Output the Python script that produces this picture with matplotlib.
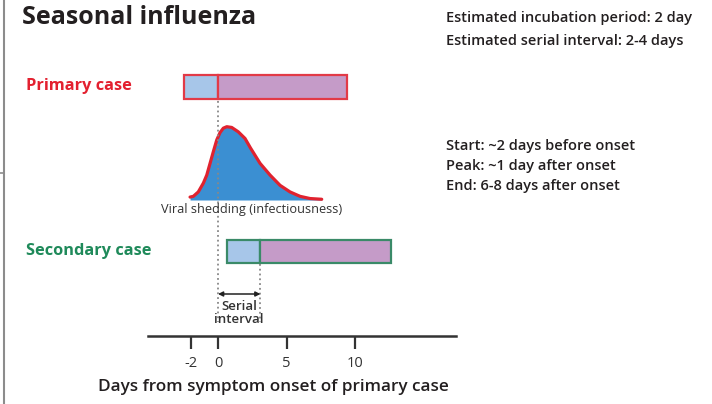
import matplotlib.pyplot as plt
from matplotlib.patches import Rectangle

plt.rcParams['font.family'] = ['Open Sans', 'DejaVu Sans']

# data (days from symptom onset of primary case)
primary_incub = (-2.5, 0.0)       # incubation part of primary case
primary_ill = (0.0, 9.4)          # symptomatic part
secondary_incub = (0.65, 3.1)
secondary_ill = (3.1, 12.6)

shed_days = [-2.04, -1.80, -1.44, -1.07, -0.82, -0.58, -0.34, -0.09, 0.15, 0.39,
             0.64, 1.0, 1.48, 1.97, 2.37, 3.07, 3.80, 4.53, 5.26, 5.99, 6.72, 7.57]
shed_level = [0.04, 0.05, 0.11, 0.23, 0.34, 0.50, 0.66, 0.82, 0.92, 0.98,
              1.0, 0.99, 0.93, 0.84, 0.71, 0.50, 0.34, 0.20, 0.11, 0.05, 0.02, 0.01]

ticks = [-2, 0, 5, 10]

fig = plt.figure(figsize=(7.12, 4.04), dpi=100)
ax = fig.add_axes([0, 0, 1, 1])
# x: days, y: pixel rows from top
ax.set_xlim(-218 / 13.7, (712 - 218) / 13.7)
ax.set_ylim(404, 0)

blue = '#a7c6e9'
purple = '#c59bc8'
red = '#e23a47'
green = '#3a8a68'

def case_bar(incub, ill, y0, h, edge):
    ax.add_patch(Rectangle((incub[0], y0), incub[1] - incub[0], h,
                           facecolor=blue, edgecolor=edge, lw=1.6))
    ax.add_patch(Rectangle((ill[0], y0), ill[1] - ill[0], h,
                           facecolor=purple, edgecolor=edge, lw=1.6))

case_bar(primary_incub, primary_ill, 75, 24, red)
case_bar(secondary_incub, secondary_ill, 240, 23, green)

# shedding curve
base, peak_h = 200, 73.3
ys = [base - peak_h * v for v in shed_level]
ax.fill_between(shed_days, base, ys, color='#3b8fd2', lw=0)
ax.plot(shed_days, ys, color='#e0222f', lw=2.3, solid_capstyle='round',
        solid_joinstyle='round')

# dotted guides
ax.plot([0, 0], [101, 322], ls=':', color='#888888', lw=1.3)
ax.plot([secondary_incub[1]] * 2, [264, 322], ls=':', color='#888888', lw=1.3)

ax.annotate('', xy=(0, 294), xytext=(secondary_incub[1], 294),
            arrowprops=dict(arrowstyle='<|-|>', color='#222222', lw=1.1,
                            mutation_scale=7, shrinkA=0, shrinkB=0))
ax.text(secondary_incub[1] / 2, 313, 'Serial\ninterval', ha='center', va='center',
        fontsize=9.5, fontweight='semibold', color='#333333', linespacing=0.95)

# texts
ax.text(-14.3, 17, 'Seasonal influenza', fontsize=18, fontweight='bold',
        color='#231f20', va='center')
ax.text(-14.0, 86, 'Primary case', fontsize=11.8, fontweight='bold', color='#e3202f',
        va='center')
ax.text(-14.0, 251, 'Secondary case', fontsize=11.8, fontweight='bold', color='#1f8a5a',
        va='center')
ax.text((252 - 218) / 13.7, 209, 'Viral shedding (infectiousness)', fontsize=9.2,
        color='#333333', ha='center', va='center')

xr = (446 - 218) / 13.7
for y, s in [(18, 'Estimated incubation period: 2 day'),
             (41, 'Estimated serial interval: 2-4 days'),
             (146, 'Start: ~2 days before onset'),
             (166, 'Peak: ~1 day after onset'),
             (186, 'End: 6-8 days after onset')]:
    ax.text(xr, y, s, fontsize=10.5, fontweight='semibold', color='#231f20', va='center')

# left frame line
x0 = -218 / 13.7
ax.plot([x0 + 4 / 13.7] * 2, [0, 404], color='#8c8c8c', lw=1.5)
ax.plot([x0, x0 + 4 / 13.7], [173, 173], color='#8c8c8c', lw=1.2)

# time axis
for side in ['top', 'left', 'right']:
    ax.spines[side].set_visible(False)
ax.spines['bottom'].set_position(('data', 336))
ax.spines['bottom'].set_bounds((148 - 218) / 13.7, (456 - 218) / 13.7)
ax.spines['bottom'].set_linewidth(1.8)
ax.spines['bottom'].set_color('#333333')
ax.set_yticks([])
ax.set_xticks(ticks)
ax.set_xticklabels([str(t) for t in ticks])
ax.tick_params(axis='x', direction='out', length=9.5, width=1.6, color='#333333',
               labelsize=10.5, labelcolor='#333333', pad=5)
ax.set_xlabel('Days from symptom onset of primary case', fontsize=12.3,
              fontweight='semibold', color='#231f20')
ax.xaxis.set_label_coords(273 / 712, 1 - 379 / 404)

fig.savefig('out.png', dpi=100)
